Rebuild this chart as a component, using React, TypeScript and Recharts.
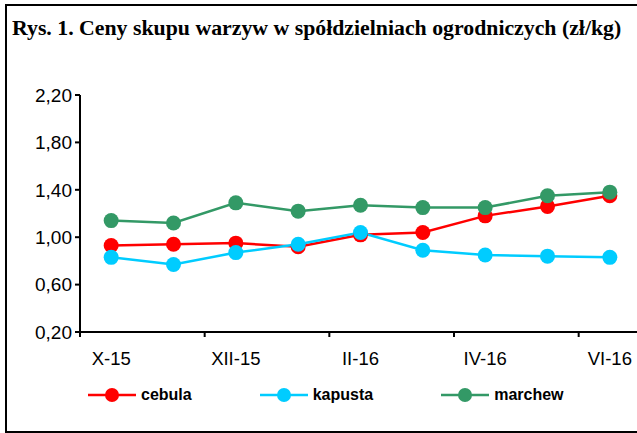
import React from 'react';
import { LineChart, Line, XAxis, YAxis } from 'recharts';

const categories = ['X-15', 'XI-15', 'XII-15', 'I-16', 'II-16', 'III-16', 'IV-16', 'V-16', 'VI-16'];
const cebula = [0.93, 0.94, 0.95, 0.92, 1.02, 1.04, 1.18, 1.26, 1.35];
const kapusta = [0.83, 0.77, 0.87, 0.94, 1.04, 0.89, 0.85, 0.84, 0.83];
const marchew = [1.14, 1.12, 1.29, 1.22, 1.27, 1.25, 1.25, 1.35, 1.38];
const yTicks = [0.2, 0.6, 1.0, 1.4, 1.8, 2.2];
const xTickBoundaries = [0, 2, 4, 6, 8];
const title = 'Rys. 1. Ceny skupu warzyw w spółdzielniach ogrodniczych (zł/kg)';

const series = [
  { key: 'cebula', name: 'cebula', color: '#FF0000', values: cebula },
  { key: 'kapusta', name: 'kapusta', color: '#00CCFF', values: kapusta },
  { key: 'marchew', name: 'marchew', color: '#339966', values: marchew },
];

const data = categories.map((c, i) => {
  const row: any = { pos: i + 0.5, cat: c };
  series.forEach((s) => {
    row[s.key] = s.values[i];
  });
  return row;
});

const SANS = '"Liberation Sans", Arial, sans-serif';
const SERIF = '"Liberation Serif", "Times New Roman", serif';

const CHART_W = 700;
const CHART_H = 433;

const XTick = (props: any) => {
  const { x, y, payload, width } = props;
  const half = (width ?? 561) / categories.length / 2;
  const label = categories[payload.value];
  return (
    <text
      x={x + half}
      y={y}
      dy="0.71em"
      textAnchor="middle"
      fill="#000"
      fontSize={18.5}
      fontFamily={SANS}
    >
      {label}
    </text>
  );
};

const fmt = (v: number) => v.toFixed(2).replace('.', ',');

export default function App() {
  return (
    <div
      style={{
        position: 'absolute',
        left: 0,
        top: 0,
        width: 637,
        height: 433,
        overflow: 'hidden',
        background: '#fff',
      }}
    >
      <div
        style={{
          position: 'absolute',
          left: 5,
          top: 4,
          width: 700,
          height: 429,
          border: '2px solid #000',
          boxSizing: 'border-box',
        }}
      />
      <div
        style={{
          position: 'absolute',
          left: 12,
          top: 18,
          fontFamily: SERIF,
          fontWeight: 'bold',
          fontSize: 20,
          lineHeight: '20px',
          whiteSpace: 'nowrap',
          color: '#000',
          transform: 'scaleX(1.09)',
          transformOrigin: 'left center',
        }}
      >
        {title}
      </div>
      <div style={{ position: 'absolute', left: 0, top: 0 }}>
        <LineChart
          width={CHART_W}
          height={CHART_H}
          data={data}
          margin={{ top: 95, right: 59, bottom: 71, left: 0 }}
        >
          <XAxis
            dataKey="pos"
            type="number"
            domain={[0, categories.length]}
            ticks={xTickBoundaries}
            interval={0}
            height={30}
            axisLine={{ stroke: '#000', strokeWidth: 2 }}
            tickLine={{ stroke: '#000', strokeWidth: 2 }}
            tickSize={5}
            tickMargin={15}
            tick={<XTick />}
            allowDataOverflow
          />
          <YAxis
            type="number"
            domain={[0.2, 2.2]}
            ticks={yTicks}
            interval={0}
            width={80}
            axisLine={{ stroke: '#000', strokeWidth: 2 }}
            tickLine={{ stroke: '#000', strokeWidth: 2 }}
            tickSize={5}
            tickMargin={3}
            tickFormatter={fmt}
            tick={{ fill: '#000', fontSize: 19, fontFamily: SANS }}
            allowDataOverflow
          />
          {series.map((s) => (
            <Line
              key={s.key}
              dataKey={s.key}
              name={s.name}
              type="linear"
              stroke={s.color}
              strokeWidth={2.5}
              dot={{ r: 7.5, fill: s.color, stroke: s.color, strokeWidth: 0 }}
              activeDot={false}
              isAnimationActive={false}
            />
          ))}
        </LineChart>
      </div>
      <div
        style={{
          position: 'absolute',
          left: 88,
          top: 387,
          display: 'flex',
          alignItems: 'center',
          gap: 68,
          fontFamily: SANS,
          fontWeight: 'bold',
          fontSize: 16,
          color: '#000',
        }}
      >
        {series.map((s) => (
          <div key={s.key} style={{ display: 'flex', alignItems: 'center', gap: 5 }}>
            <svg width={48} height={16} style={{ display: 'block' }}>
              <line x1={0} y1={8} x2={48} y2={8} stroke={s.color} strokeWidth={2.5} />
              <circle cx={24} cy={8} r={7} fill={s.color} />
            </svg>
            <span style={{ lineHeight: '16px' }}>{s.name}</span>
          </div>
        ))}
      </div>
    </div>
  );
}
